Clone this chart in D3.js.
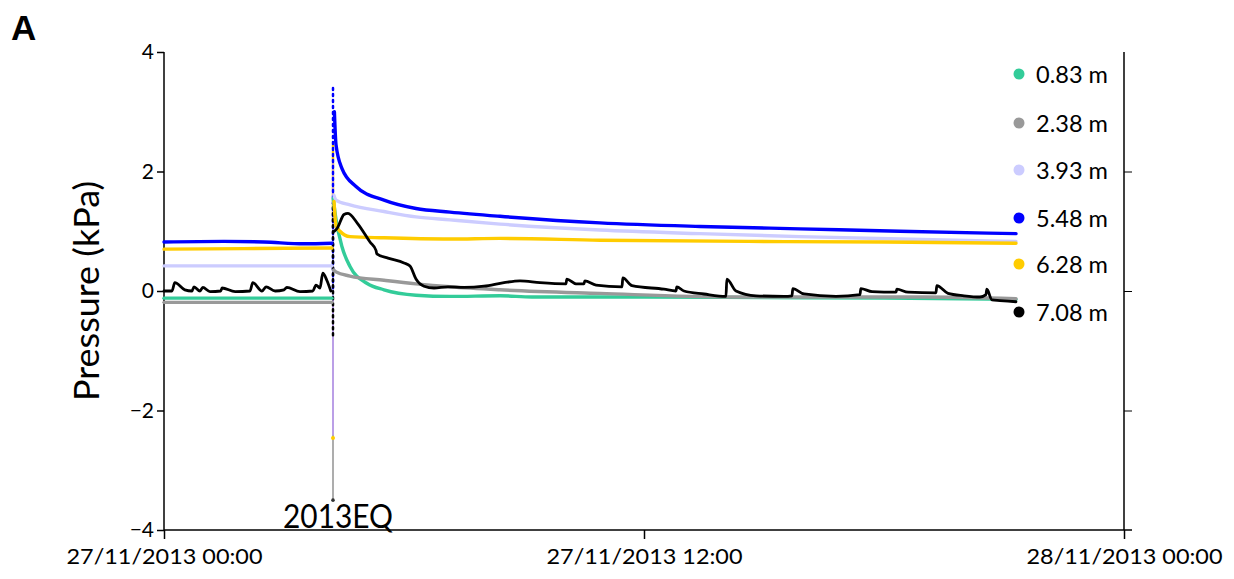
<!DOCTYPE html>
<html><head><meta charset="utf-8">
<script src="https://cdn.jsdelivr.net/npm/d3@7"></script>
<style>body{margin:0;background:#fff}svg{display:block}text{font-family:Lato,"Open Sans",sans-serif;fill:#000}</style>
</head><body><svg id="c" width="1234" height="579"></svg>
<script>
// ---- data (hours since 27/11/2013 00:00, pressure kPa) ----
const seriesNames = ["0.83 m","2.38 m","3.93 m","5.48 m","6.28 m","7.08 m"];
const seriesColors = ["#33cc99","#999999","#ccccff","#0000ff","#ffcc00","#000000"];
const eqHour = 4.225;
const s083 = [[0,-0.12],[2,-0.12],[4.2,-0.12],[4.23,1.55],[4.3,1.2],[4.45,0.74],[4.65,0.41],[5.07,0.13],[5.5,0.02],[6.3,-0.07],[7.15,-0.09],[8.4,-0.08],[9.2,-0.1],[12,-0.1],[15,-0.11],[18,-0.12],[21.3,-0.14]];
const s238 = [[0,-0.19],[2,-0.19],[4.2,-0.19],[4.24,0.35],[4.3,0.32],[4.65,0.25],[5.5,0.18],[6.3,0.12],[7.15,0.07],[8.4,0.02],[10.9,-0.04],[14.2,-0.1],[17,-0.1],[19,-0.1],[21.3,-0.13]];
const s393 = [[0,0.42],[2,0.42],[4.2,0.42],[4.25,1.6],[4.3,1.52],[4.65,1.44],[5.5,1.33],[6.3,1.24],[7.15,1.19],[8.4,1.12],[10.9,1.02],[13.4,0.96],[15.9,0.91],[18.4,0.87],[21.3,0.83]];
const s548 = [[0,0.82],[1.5,0.83],[2.5,0.82],[3.5,0.79],[4.2,0.8],[4.26,3.0],[4.3,2.45],[4.45,2.05],[4.8,1.75],[5.5,1.52],[6.3,1.38],[7.15,1.32],[8.4,1.25],[10.9,1.14],[13.4,1.08],[15.9,1.04],[18.4,1.0],[21.3,0.96]];
const s628 = [[0,0.7],[2,0.71],[4.2,0.72],[4.25,1.5],[4.3,1.1],[4.4,1.0],[4.65,0.91],[5.5,0.89],[7.15,0.87],[8.4,0.88],[10.9,0.85],[14.6,0.83],[18,0.82],[21.3,0.8]];
const s708 = [[0,0.0],[0.2,0.0],[0.27,0.14],[0.52,0.02],[0.7,0.0],[0.75,0.07],[0.9,0.0],[0.97,0.06],[1.15,-0.01],[1.42,0.0],[1.45,0.05],[1.78,-0.01],[2.15,0.0],[2.22,0.14],[2.45,0.0],[2.55,0.07],[2.78,0.0],[3.0,0.02],[3.07,0.06],[3.4,-0.01],[3.72,0.0],[3.8,0.1],[3.9,0.05],[3.97,0.3],[4.07,0.18],[4.17,0.0],
  [4.26,1.0],[4.33,1.05],[4.5,1.28],[4.6,1.3],[4.85,1.12],[5.15,0.82],[5.3,0.68],[5.32,0.62],[5.6,0.55],[6.0,0.47],[6.15,0.42],[6.3,0.2],[6.5,0.08],[6.75,0.05],[7.1,0.07],[7.5,0.06],[8.0,0.08],[8.5,0.14],[8.9,0.17],[9.4,0.14],[10.05,0.12],[10.07,0.2],[10.3,0.12],[10.5,0.12],[10.52,0.17],[10.8,0.1],[11.45,0.07],[11.47,0.22],[11.7,0.09],[12.5,0.03],[12.8,0.0],[12.82,0.07],[13.0,0.0],[13.5,-0.05],[14.05,-0.09],[14.07,0.2],[14.3,0.0],[14.8,-0.08],[15.5,-0.09],[15.7,-0.08],[15.72,0.04],[16.0,-0.05],[16.8,-0.09],[17.4,-0.06],[17.42,0.04],[17.7,-0.01],[18.3,-0.02],[18.32,0.03],[18.6,-0.02],[19.3,-0.03],[19.32,0.09],[19.6,-0.04],[20.0,-0.08],[20.4,-0.1],[20.55,-0.06],[20.57,0.03],[20.7,-0.15],[20.9,-0.16],[21.3,-0.18]];
const seriesData = [s083,s238,s393,s548,s628,s708];
// earthquake excursions (low, high) per series
const spikeLow  = [-0.12,-3.5,-2.4,0.05,1.2,-0.74];
const spikeHigh = [1.6,0.35,2.2,3.4,2.5,1.47];
const spikeColors = ["#33cc99","#999999","#bf9cf5","#0000ff","#ffcc00","#000000"];
const yellowDrop = -2.46;
const yTicks = [-4,-2,0,2,4];
const xTickHours = [0,12,24];
const xTickLabels = ["27/11/2013 00:00","27/11/2013 12:00","28/11/2013 00:00"];

const svg = d3.select("#c");
const t0 = Date.UTC(2013,10,27);
const toDate = h => new Date(t0 + h*3600e3);
const x = d3.scaleUtc().domain([toDate(0),toDate(24)]).range([164,1124]);
const y = d3.scaleLinear().domain([-4,4]).range([530,52]);

// axes
const yAxis = d3.axisLeft(y).tickValues(yTicks).tickSize(7).tickPadding(3).tickFormat(d3.format("d"));
const gy = svg.append("g").attr("transform","translate(164,0)").call(yAxis);
gy.select(".domain").attr("d","M0,52V530").attr("stroke","#000").attr("stroke-width",1.5);
gy.selectAll(".tick line").attr("stroke","#000").attr("stroke-width",1.5);
gy.selectAll(".tick text").style("font-size","21px").attr("font-family","Lato");

const yAxisR = d3.axisRight(y).tickValues([-2,0,2]).tickSize(8).tickFormat("");
const gr = svg.append("g").attr("transform","translate(1124,0)").call(yAxisR);
gr.select(".domain").attr("d","M0,52V530").attr("stroke","#000").attr("stroke-width",1.5);
gr.selectAll(".tick line").attr("stroke","#000").attr("stroke-width",1);

const xAxis = d3.axisBottom(x).tickValues(xTickHours.map(toDate)).tickSize(9).tickPadding(9).tickFormat((d,i)=>xTickLabels[i]);
const gx = svg.append("g").attr("transform","translate(0,530)").call(xAxis);
gx.select(".domain").attr("d","M164,0H1132").attr("stroke","#000").attr("stroke-width",1.5);
gx.selectAll(".tick line").attr("stroke","#000").attr("stroke-width",1.5);
gx.selectAll(".tick text").style("font-size","22px").attr("textLength",196).attr("lengthAdjust","spacingAndGlyphs");

// earthquake spikes (thin, drawn under series)
const sx = x(toDate(eqHour));
const spikeOrder = [1,4,0,2,3,5];
spikeOrder.forEach(i=>{
  const dotted = (i===3||i===5||i===4);
  svg.append("line").attr("x1",sx).attr("x2",sx).attr("y1",y(spikeLow[i])).attr("y2",y(spikeHigh[i]))
    .attr("stroke",spikeColors[i]).attr("stroke-width",dotted?2.5:1.6)
    .attr("stroke-dasharray",dotted?"2,4":null).attr("stroke-linecap","round");
});
svg.append("circle").attr("cx",sx).attr("cy",y(spikeLow[1])).attr("r",1.8).attr("fill","#333");
svg.append("circle").attr("cx",sx).attr("cy",y(yellowDrop)).attr("r",2).attr("fill","#ffcc00");

// series
const line = d3.line().curve(d3.curveMonotoneX).x(d=>x(toDate(d[0]))).y(d=>y(d[1]));
seriesData.forEach((s,i)=>{
  const pre = s.filter(d=>d[0]<eqHour), post = s.filter(d=>d[0]>eqHour);
  [pre,post].forEach(seg=>{
    svg.append("path").datum(seg).attr("d",line).attr("fill","none")
      .attr("stroke",seriesColors[i]).attr("stroke-width",i===5?2.8:3.4)
      .attr("stroke-linejoin","round").attr("stroke-linecap","round");
  });
});

// legend
const legY = [74,123,170,218,264,312];
seriesNames.forEach((n,i)=>{
  svg.append("circle").attr("cx",1019).attr("cy",legY[i]).attr("r",5.5).attr("fill",seriesColors[i]);
  svg.append("text").attr("x",1036).attr("y",legY[i]+9).style("font-size","23px")
    .attr("textLength",72).attr("lengthAdjust","spacingAndGlyphs").text(n);
});

// labels
svg.append("text").attr("transform","translate(99,291) rotate(-90)").attr("text-anchor","middle")
  .style("font-size","34px").attr("textLength",220).attr("lengthAdjust","spacingAndGlyphs").text("Pressure (kPa)");
svg.append("text").attr("x",338).attr("y",528).attr("text-anchor","middle").style("font-size","32px")
  .attr("textLength",110).attr("lengthAdjust","spacingAndGlyphs").text("2013EQ");
svg.append("text").attr("x",11).attr("y",40).style("font-size","35px").style("font-weight","bold")
  .style("font-family","'Liberation Sans',Arial,sans-serif").text("A");
</script></body></html>
